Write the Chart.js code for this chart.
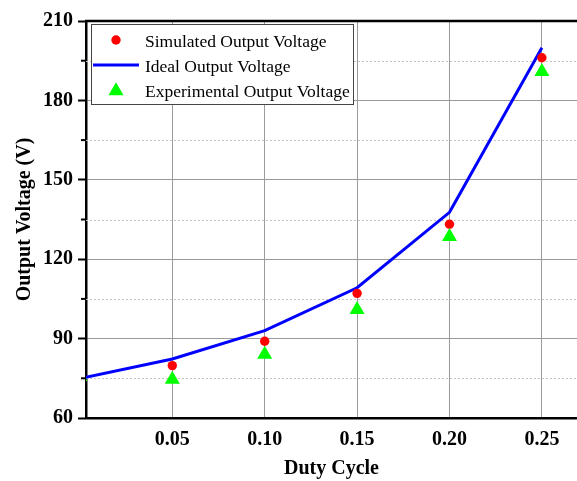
<!DOCTYPE html>
<html>
<head>
<meta charset="utf-8">
<script src="https://cdn.jsdelivr.net/npm/chart.js@4.4.1/dist/chart.umd.min.js"></script>
<style>
  html, body { margin: 0; padding: 0; background: #fff; }
</style>
</head>
<body>
<canvas id="grafico" width="577" height="481"></canvas>
<script>
// Datos
const cicloIdeal = [0, 0.05, 0.10, 0.15, 0.20, 0.25];
const voltajeIdeal = [74.9, 82.3, 93.0, 109.2, 137.7, 199.9];

const cicloSimulado = [0.05, 0.10, 0.15, 0.20, 0.25];
const voltajeSimulado = [79.8, 89.0, 107.1, 133.2, 196.1];

const cicloExperimental = [0, 0.05, 0.10, 0.15, 0.20, 0.25];
const voltajeExperimental = [75.6, 74.6, 84.0, 100.9, 128.5, 190.9];

const ticksX = [0.05, 0.10, 0.15, 0.20, 0.25];
const ticksY = [60, 90, 120, 150, 180, 210];
const menoresY = [75, 105, 135, 165, 195];

const serif = "'Liberation Serif', 'Times New Roman', serif";

const aPuntos = (xs, ys) => xs.map((x, i) => ({ x: x, y: ys[i] }));

// Leyenda, rejilla menor y borde superior
const marcoPlugin = {
  id: 'marco',
  beforeDatasetsDraw(chart) {
    const { ctx, chartArea: a, scales: { y } } = chart;
    ctx.save();
    ctx.strokeStyle = '#c4c4c4';
    ctx.lineWidth = 1;
    ctx.setLineDash([2, 2]);
    menoresY.forEach(v => {
      const py = Math.round(y.getPixelForValue(v)) + 0.5;
      ctx.beginPath();
      ctx.moveTo(a.left, py);
      ctx.lineTo(a.right, py);
      ctx.stroke();
    });
    ctx.restore();
  },
  afterDraw(chart) {
    const { ctx, chartArea: a, scales: { y } } = chart;
    ctx.save();
    // borde superior
    ctx.strokeStyle = '#000';
    ctx.lineWidth = 2.5;
    ctx.beginPath();
    ctx.moveTo(a.left - 1, a.top);
    ctx.lineTo(a.right, a.top);
    ctx.stroke();
    // marcas menores del eje y
    ctx.lineWidth = 2;
    menoresY.forEach(v => {
      const py = y.getPixelForValue(v);
      ctx.beginPath();
      ctx.moveTo(a.left - 5, py);
      ctx.lineTo(a.left, py);
      ctx.stroke();
    });

    // leyenda
    const lx = a.left + 5, ly = a.top + 3, lw = 262, lh = 80;
    ctx.fillStyle = '#fff';
    ctx.fillRect(lx, ly, lw, lh);
    ctx.strokeStyle = '#444';
    ctx.lineWidth = 1;
    ctx.strokeRect(lx + 0.5, ly + 0.5, lw, lh);

    const sx = lx + 25, tx = lx + 54;
    const filas = [ly + 16, ly + 41, ly + 66];
    ctx.font = '17.5px ' + serif;
    ctx.textBaseline = 'alphabetic';

    // simulado
    ctx.fillStyle = '#ff0000';
    ctx.beginPath();
    ctx.arc(sx, filas[0], 4.7, 0, Math.PI * 2);
    ctx.fill();
    // ideal
    ctx.strokeStyle = '#0000ff';
    ctx.lineWidth = 3;
    ctx.beginPath();
    ctx.moveTo(lx + 2, filas[1]);
    ctx.lineTo(lx + 48, filas[1]);
    ctx.stroke();
    // experimental
    const r = 8.66;
    const cy = filas[2] + 1;
    ctx.fillStyle = '#00ff00';
    ctx.beginPath();
    ctx.moveTo(sx, cy - r);
    ctx.lineTo(sx + r * 0.866, cy + r / 2);
    ctx.lineTo(sx - r * 0.866, cy + r / 2);
    ctx.closePath();
    ctx.fill();

    ctx.fillStyle = '#000';
    ctx.fillText('Simulated Output Voltage', tx, filas[0] + 7);
    ctx.fillText('Ideal Output Voltage', tx, filas[1] + 7);
    ctx.fillText('Experimental Output Voltage', tx, filas[2] + 7);
    ctx.restore();
  }
};

new Chart(document.getElementById('grafico'), {
  data: {
    datasets: [
      {
        type: 'line',
        label: 'Ideal Output Voltage',
        data: aPuntos(cicloIdeal, voltajeIdeal),
        borderColor: '#0000ff',
        borderWidth: 3,
        pointRadius: 0,
        tension: 0,
        fill: false,
        clip: 0,
        order: 3
      },
      {
        type: 'scatter',
        label: 'Simulated Output Voltage',
        data: aPuntos(cicloSimulado, voltajeSimulado),
        backgroundColor: '#ff0000',
        borderWidth: 0,
        pointRadius: 4.7,
        pointStyle: 'circle',
        order: 2
      },
      {
        type: 'scatter',
        label: 'Experimental Output Voltage',
        data: aPuntos(cicloExperimental, voltajeExperimental),
        backgroundColor: '#00ff00',
        borderWidth: 0,
        pointRadius: 8.66,
        pointStyle: 'triangle',
        clip: 0,
        order: 1
      }
    ]
  },
  options: {
    responsive: false,
    animation: false,
    devicePixelRatio: 1,
    layout: { autoPadding: false, padding: { top: 21, right: 0, bottom: 0, left: 0 } },
    plugins: { legend: { display: false }, tooltip: { enabled: false } },
    scales: {
      x: {
        type: 'linear',
        min: 0.0033,
        max: 0.269,
        afterBuildTicks: scale => { scale.ticks = ticksX.map(v => ({ value: v })); },
        afterFit: scale => {
          scale.height = 63;
          scale.paddingLeft = 0;
          scale.paddingRight = 0;
        },
        grid: { color: '#9a9a9a', lineWidth: 1, drawTicks: false },
        border: { color: '#000', width: 2.5 },
        ticks: {
          padding: 10,
          color: '#000',
          font: { family: serif, size: 20, weight: 'bold' },
          callback: v => v.toFixed(2)
        },
        title: {
          display: true,
          text: 'Duty Cycle',
          color: '#000',
          font: { family: serif, size: 20, weight: 'bold' },
          padding: { top: 0, bottom: 0 }
        }
      },
      y: {
        min: 60,
        max: 210,
        afterBuildTicks: scale => { scale.ticks = ticksY.map(v => ({ value: v })); },
        afterFit: scale => { scale.width = 86; },
        grid: {
          color: '#9a9a9a',
          lineWidth: 1,
          tickLength: 8,
          tickWidth: 2,
          tickColor: '#000'
        },
        border: { color: '#000', width: 2.5 },
        ticks: {
          padding: 5,
          color: '#000',
          font: { family: serif, size: 20, weight: 'bold' }
        },
        title: {
          display: true,
          text: 'Output Voltage (V)',
          color: '#000',
          font: { family: serif, size: 20, weight: 'bold' },
          padding: { top: 13, bottom: 0 }
        }
      }
    }
  },
  plugins: [marcoPlugin]
});
</script>
</body>
</html>
